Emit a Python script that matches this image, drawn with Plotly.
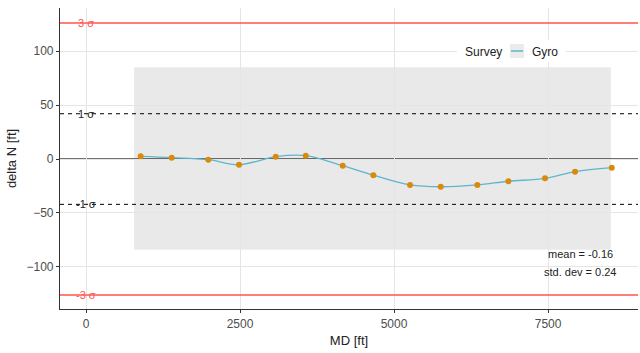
import plotly.graph_objects as go

# Data
md = [888, 1391, 1985, 2484, 3080, 3567, 4167, 4664, 5260, 5758, 6352, 6856, 7451, 7938, 8534]
delta_n = [2.5, 1.3, -0.6, -5.3, 2.2, 3.1, -6.2, -15.0, -24.0, -25.7, -24.0, -20.6, -17.9, -11.7, -8.0]
sigma1 = 42
sigma3 = 126
band_x = [780, 8520]
band_y = [-84, 85]
stats_text = ["mean = -0.16", "std. dev = 0.24"]
stats_y = [-88, -104.5]
x_ticks = [0, 2500, 5000, 7500]
y_ticks = [-100, -50, 0, 50, 100]
legend_title = "Survey"
series_name = "Gyro"

FONT = "Liberation Sans, Arial, sans-serif"
W, H = 640, 353
ML, MR, MT, MB = 60, 2, 8, 44


def px(x):
    return (x - ML) / (W - ML - MR)


def py(y):
    return (H - MB - y) / (H - MT - MB)


fig = go.Figure()

# grey band (semi-transparent so the grid shows through)
fig.add_shape(type="rect", x0=band_x[0], x1=band_x[1], y0=band_y[0], y1=band_y[1],
              fillcolor="rgba(0,0,0,0.085)", line_width=0, layer="below")

# zero line
fig.add_shape(type="line", xref="paper", x0=0, x1=1, y0=0, y1=0,
              line=dict(color="#444444", width=1.8), layer="between")
# sigma lines
for v in [sigma1, -sigma1]:
    fig.add_shape(type="line", xref="paper", x0=0, x1=1, y0=v, y1=v,
                  line=dict(color="black", width=1, dash="4px,4px"))
for v in [sigma3, -sigma3]:
    fig.add_shape(type="line", xref="paper", x0=0, x1=1, y0=v, y1=v,
                  line=dict(color="#FF5555", width=1.5))

fig.add_trace(go.Scatter(x=md, y=delta_n, mode="lines", name=series_name,
                         line=dict(color="#5DB6CC", width=1.3, shape="spline"),
                         showlegend=False))
fig.add_trace(go.Scatter(x=md, y=delta_n, mode="markers", showlegend=False,
                         marker=dict(color="#D98A0C", size=6)))

labels = [(sigma3, "3 σ", "#FF5555"), (sigma1, "1 σ", "#222222"),
          (-sigma1, "-1 σ", "#222222"), (-sigma3, "-3 σ", "#FF5555")]
for v, t, c in labels:
    fig.add_annotation(x=0, y=v, text=t, showarrow=False,
                       font=dict(family=FONT, size=11, color=c), xanchor="center", yanchor="middle")

for t, yy in zip(stats_text, stats_y):
    fig.add_annotation(x=8020, y=yy, text=t, showarrow=False,
                       font=dict(family=FONT, size=11, color="#222222"), xanchor="center", yanchor="middle")

# manual legend (ggplot style)
fig.add_shape(type="rect", xref="paper", yref="paper", x0=px(457), x1=px(566), y0=py(62), y1=py(40),
              fillcolor="white", line_width=0, layer="above")
fig.add_shape(type="rect", xref="paper", yref="paper", x0=px(510), x1=px(524), y0=py(58), y1=py(44),
              fillcolor="#EBEBEB", line_width=0, layer="above")
fig.add_shape(type="line", xref="paper", yref="paper", x0=px(511), x1=px(523), y0=py(51), y1=py(51),
              line=dict(color="#5DB6CC", width=1.5), layer="above")
fig.add_annotation(xref="paper", yref="paper", x=px(463), y=py(52), text=legend_title, showarrow=False,
                   xanchor="left", yanchor="middle", font=dict(family=FONT, size=12, color="#222222"))
fig.add_annotation(xref="paper", yref="paper", x=px(530), y=py(52), text=series_name, showarrow=False,
                   xanchor="left", yanchor="middle", font=dict(family=FONT, size=12, color="#222222"))

fig.update_layout(
    width=W, height=H,
    margin=dict(l=ML, r=MR, t=MT, b=MB, autoexpand=False),
    plot_bgcolor="white", paper_bgcolor="white",
    font=dict(family=FONT, size=12, color="#4D4D4D"),
    showlegend=False,
    xaxis=dict(range=[-422, 8960], tickvals=x_ticks, showgrid=True, gridcolor="#E5E5E5",
               zeroline=False, showline=True, linecolor="#333333", linewidth=1.2,
               ticks="outside", ticklen=3, tickcolor="#333333",
               title=dict(text="MD [ft]", font=dict(size=13, color="#222222"), standoff=6)),
    yaxis=dict(range=[-139, 140], tickvals=y_ticks, showgrid=True, gridcolor="#E5E5E5",
               zeroline=False, showline=True, linecolor="#333333", linewidth=1.2,
               ticks="outside", ticklen=3, tickcolor="#333333",
               title=dict(text="delta N [ft]", font=dict(size=13, color="#222222"), standoff=6)),
)

fig.write_html("out.html", config={"displayModeBar": False},
               post_script="document.body.style.margin='0';document.body.style.overflow='hidden';")
